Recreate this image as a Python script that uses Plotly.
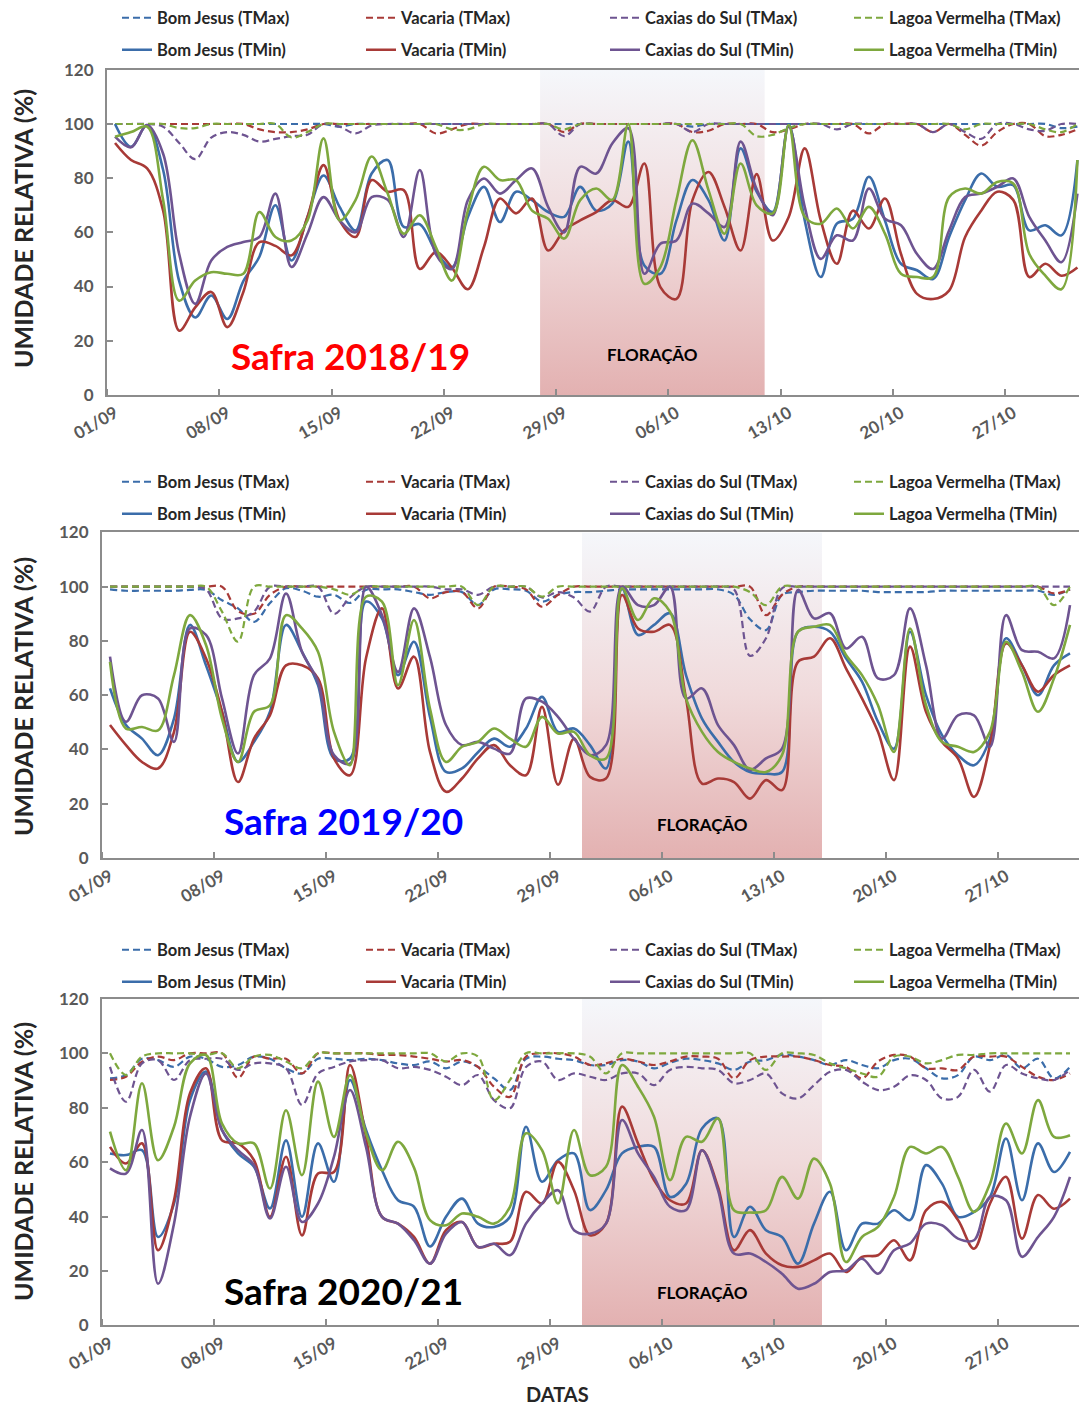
import plotly.graph_objects as go

# ---------------- data ----------------
DAYS = list(range(61))  # 01/09 .. 31/10
TICK_DAYS = [0, 7, 14, 21, 28, 35, 42, 49, 56]
TICK_LABELS = ["01/09", "08/09", "15/09", "22/09", "29/09", "06/10", "13/10", "20/10", "27/10"]
STATIONS = ["Bom Jesus", "Vacaria", "Caxias do Sul", "Lagoa Vermelha"]
SAFRAS = ["Safra 2018/19", "Safra 2019/20", "Safra 2020/21"]
FLORACAO_DAYS = [(27, 40), (30, 44), (30, 44)]  # first and last day index of flowering

# ---- Safra 2018/19 ----
BJ1_MAX = [100,100,100,100,100,100,100,100,100,100, 100,100,100,100,99,100,100,100,100,100,
           100,100,100,100,100,100,100,100,100,100, 100,100,100,100,100,100,99,100,100,100,
           100,100,100,100,100,100,100,100,100,100, 100,100,100,100,100,100,100,100,100,98.5, 99]
VAC1_MAX = [100,100,100,100,100,100,100,100,100,98, 97,97,98,100,100,100,100,100,100,100,
            96.5,98,100,100,100,100,100,100,97,100, 100,100,100,100,100,100,97,97.5,100,100,
            100,97,98,100,100,100,100,96.5,100,100, 100,97,100,96,92,97,100,100,95.5,96, 98]
CAX1_MAX = [100,100,100,99,93,87,95,97,96,93.5, 94.5,95.5,96,100,99,96.5,99.5,100,100,100,
            100,100,100,100,100,100,100,100,95.5,100, 100,100,100,100,100,100,97,100,100,100,
            100,100,100,100,100,98,100,100,100,100, 100,97,100,97,94.5,100,100,98,97.5,100, 100]
LV1_MAX = [100,100,100,100,98.5,98.5,100,100,100,100, 100,95,97,100,100,100,100,100,100,100,
           100,98,98,100,100,100,100,100,98,100, 100,100,100,100,100,100,100,100,100,100,
           95.5,96,98.5,100,100,100,100,100,100,100, 100,100,100,98,100,100,100,100,98,97, 100]
BJ1_MIN = [100,91.6,99.6,83,42,28.6,36.7,28,42,51, 70,49.6,65.7,81,69.4,60.7,81.7,86.7,62,63,
           53,47,65.7,76.8,63.8,75,71.9,67.5,65.7,76.8, 68,70.6,93.5,47.8,44.7,64.4,79.3,71.9,57,91,
           75,67.5,99.6,64.4,43.5,63.2,65,80.5,64.4,48.4, 46,42.8,58.3,71.9,81.7,76.8,77.4,60.7,62.6,58.9, 86.7]
VAC1_MIN = [93,86.7,83.6,68,23.7,32.3,38,25,38,56.4, 55,51.5,65.7,84.8,64.4,58.3,79.3,75,75.6,46.5,
            52.7,47,39,54.6,72.5,67,72.5,53.3,60.7,64.4, 67.5,71.9,69.4,85.4,39.8,35.4,71.9,82.3,69.4,53.3,
            81.5,57,65.7,91,64.4,48.4,68,61.4,72.5,52, 37.3,35.4,38.5,58.3,68,75,72,43.5,48.4,44, 47]
CAX1_MIN = [95.3,91.4,99.6,89,52,33.6,49.6,54.6,56.4,58.3, 74.3,47.2,59.5,73,64.4,60,73,72,58.3,83,
            52,46.5,71.9,79.9,74.3,79.3,83.6,69.4,60,84.2, 81.7,92.8,98.4,44.7,55.8,57,70.6,67,62,93.5,
            76,66.3,99,69.4,50.2,58.9,57,76.2,65,62.6, 52,46.5,60.7,73,74.3,76.8,79.9,65.7,57,49, 74.3]
LV1_MIN = [95.3,97,99,71.9,34.8,42.2,45.3,44.7,44.7,67.5, 58.3,57,64.4,94.7,64.4,72,88,74.3,59.5,66.3,
           54.6,42.2,68,84.2,79.3,79.3,68,65,57.7,71.9, 76.2,72,100,41,47.2,71.9,94,75.6,59.5,85.4,
           70,67,99.6,65.7,63.2,68.8,61.4,69.4,59.5,44.7, 43.5,43.5,73,76.2,74.3,78.6,78,52,44,39, 86.7]

# ---- Safra 2019/20 ----
BJ2_MAX = [99,98.5,98.5,98.5,98.5,98.8,98.8,95,92,87, 94,99.4,98.5,96.3,97,94,98.8,99,99,98,
           97,98,98,93.2,99,99,98.5,94.5,97,98, 98,98.5,99,99,99,99,99,99,99,97,
           88,84,97,98,98.5,98.5,98.5,98.5,98,98, 98,98,98.5,98.5,98.5,98.5,98.5,98.5,98.5,97, 99]
VAC2_MAX = [100,100,100,100,100,100,100,100,91,90, 97,100,100,100,100,100,100,100,100,100,
            95.7,98,98,92,100,100,99,92.6,97,100, 100,100,100,100,100,100,100,100,100,100,
            100,89.5,97,100,100,100,100,100,100,100, 100,100,100,100,100,100,100,100,100,97.5, 99]
CAX2_MAX = [100,100,100,100,100,100,99,88.3,88.3,90.8, 100,100,100,100,90,96,100,100,100,100,
            100,99,99,97,100,100,100,96,98,96, 90.8,100,100,100,100,100,100,100,100,99,
            74.5,81,99.4,100,100,100,100,100,100,100, 100,100,100,100,100,100,100,100,100,100, 100]
LV2_MAX = [100,100,100,100,100,100,100,90.8,79.7,100, 100,100,100,100,99,97,100,100,100,100,
           100,100,100,93.2,100,100,100,96.3,100,100, 100,100,100,100,100,100,100,100,100,100,
           98,93.2,100,100,100,100,100,100,100,100, 100,100,100,100,100,100,100,100,100,93.2, 100]
BJ2_MIN = [62.5,49,44,37.9,51.4,85.9,71,53.9,35.4,42.8, 53.9,85.9,76,63.7,36.7,36.7,94.5,88.3,67.4,79.7,
           52,31.7,33,39,44,41,47.7,59.4,46.5,47.7, 41.6,33,99.4,82.2,85.9,90.2,67.4,51.4,42.8,35.4,
           31.7,31.1,31.7,83.4,85.2,83.4,73.6,65,50.2,40.3, 83.4,60,45.3,37.9,34.2,44,81,71,60,71, 75.4]
VAC2_MIN = [49,41.6,35.4,33,46.5,83.4,73.6,53.9,28,44, 52.6,71,71,66.2,36.7,30.5,73.6,92,62.5,74.2,
            39.1,24.4,29.3,36.7,41.6,34.2,30.5,55.7,27,44, 29.9,29.3,96.9,84.6,83.4,85.9,58.8,27.4,29.3,28,
            21.9,28.7,25,72.3,74.2,81,69.9,58.8,46.5,28.7, 77.9,53.9,42.8,36.7,22.5,41.6,79.1,71,61.3,67.4, 71]
CAX2_MIN = [74.2,50.2,60,58.8,42.8,84.6,82.2,58.8,38.5,67.4, 73.6,97.5,76,65,37.9,34.8,100,89.5,68.6,92,
            74,49,41.6,42.8,40.3,38.5,58.8,57.6,52,44, 37.9,41.6,100,93.2,93.2,100,58.8,62.5,49,41.6,
            32.5,36.7,40.3,98.8,88.3,90.2,77.2,81.5,66.2,67.4, 92,71,44,52.6,52.6,41,89.5,76.6,76,73.6, 93.2]
LV2_MIN = [72.3,47.7,48.3,47,67.4,89.5,78.5,51.4,35.4,53.9, 56.3,89.5,84.6,76,46.5,34.2,96.3,94.5,63.7,87.7,
           55,35.4,41,42.8,47.7,44,41,52,45.9,46.5, 37.9,36.7,99.4,87.7,95.7,90.8,58.8,46.5,39.1,35.4,
           33,31.7,37.9,83.4,85.2,85.9,74.8,67.4,56.3,39.1, 84.6,56.3,42.8,41,39.1,46.5,79.7,68.6,53.9,66.2, 85.9]

# ---- Safra 2020/21 ----
BJ3_MAX = [90.8,92,98,97.5,95,98.8,98,95,95.7,98.8, 98,94.5,92.6,98,98,97.5,98,97.5,96.3,95.7,
           97,94.5,97,95,90.8,86.5,98,98.8,98,97.5, 95.7,95.7,97.5,97,94.5,96.5,98,97.5,96.3,93.9,
           97,97.5,99.4,98.8,97.5,95.7,97.5,95.7,94.5,97.5, 98,94.5,90.8,92,98.8,97.5,99.4,94.5,98,90.8, 95]
VAC3_MAX = [90.2,91.4,96.9,98.8,97.5,100,100,100,91,98.8, 98,98,92.6,100,100,100,100,99.4,99.4,98.8,
            98,97,97.5,95,87.7,84,98.8,100,100,98.8, 95.7,96.3,98,97,95.7,97,98.8,98.8,98,90.8,
            97.5,98.8,98.8,98.8,97.5,95.7,95,90.8,97,99.4, 98.8,94.5,94.5,93.9,98.8,98.8,98.8,95,91.4,90.2, 92.6]
CAX3_MAX = [95,82.2,96.3,97.5,90.2,97.5,98,98,93.9,96.3, 96.3,94.5,81,92.6,95,97,97.5,97.5,94.5,95,
            93.9,91.4,88.3,92,82.8,79.8,95,97,90.2,92.6, 91.4,90.2,92.6,92.6,88.3,93.9,95,94.5,93.9,89,
            90.2,92.6,85.3,83.4,88.3,93.2,93.9,89.6,86.5,87.7, 91.9,90.2,83.4,84,93.9,85.9,95.7,92.6,90.8,90.2, 93.9]
LV3_MAX = [100,92,98.8,100,100,100,99.4,100,94.5,98.8, 99.4,97,94.5,100,100,100,100,100,100,100,
           100,97,100,98.8,82.8,90.2,100,100,100,100, 98.8,92.6,100,100,100,100,100,100,100,100,
           100,93.9,100,100,99.4,96.3,94.5,92.6,91.4,98.8, 98.8,96.3,97.5,99.4,99.4,100,100,100,100,100, 100]
BJ3_MIN = [63.2,62.6,64.4,32.5,44.8,82.8,93.3,71.8,63.2,58.3, 43,68,39.9,66.9,52.8,90.2,71.8,57,46,43.6,
           29,39.9,46.6,37.4,36.2,39.9,73,52.8,60.7,63.2, 42.4,49.7,63.2,65.6,65.6,47.2,52,72.4,76.1,32.5,
           43.6,35,32.5,22.7,37.4,49.1,27.6,37.4,37.4,42.3, 38.7,58.9,52.1,39.9,41.7,47.2,68.7,46,66.9,56.4, 63.8]
VAC3_MIN = [65.6,59.5,66.9,27.6,46,85.3,94.5,68,66.9,60.7, 39.9,62,33.1,55.8,56.4,95.7,69.3,39.9,37.4,32.5,
            22.7,35,38,28.8,30,30.7,49.1,44.8,60.1,49.7, 33.1,37.4,80.4,66.9,53.4,46,44.8,64.4,50.9,27.6,
            35,26.4,22.1,21.5,23.9,26.4,19.6,25.2,25.8,31.3, 23.9,42.3,45.4,38.7,28.2,44.8,54.6,31.9,47.9,42.9, 46.6]
CAX3_MIN = [57.7,55.8,71.8,15.3,37.4,76.7,92.6,71.8,64.4,58.9, 39.3,58.3,38,44.8,62,86.5,65.6,39.9,37.4,31.3,
            22.7,33.7,38,28.8,30,25.8,37.4,44.8,49.7,35, 33.7,37.4,75.5,63.2,54.6,43.6,42.4,64.4,49.7,26.4,
            26.4,23.3,19,13.5,15.3,19.6,20.2,24.5,19,27.6, 30.1,37.4,36.8,31.9,31.3,47.2,46,25.2,32.5,39.9, 54.6]
LV3_MIN = [71.2,57,89,60.7,73,96.3,99.4,74.2,66.9,66.9, 50.3,79.1,55.2,89.6,69.3,92,70.6,57,67.5,58,
           38.7,36.8,41.1,39.9,37.4,43.6,70.6,64.4,44.8,71.8, 55.2,58.3,95.7,87.7,76.7,53.4,69.3,67.5,76.1,42.3,
           41.5,42.3,54.6,46.6,61.3,52.1,23.3,32.5,36.2,47.2, 65.6,63.2,65.6,54.6,41.7,52.1,74.2,63.2,82.8,69.3, 69.9]

PANELS = [
    ([BJ1_MAX, VAC1_MAX, CAX1_MAX, LV1_MAX], [BJ1_MIN, VAC1_MIN, CAX1_MIN, LV1_MIN]),
    ([BJ2_MAX, VAC2_MAX, CAX2_MAX, LV2_MAX], [BJ2_MIN, VAC2_MIN, CAX2_MIN, LV2_MIN]),
    ([BJ3_MAX, VAC3_MAX, CAX3_MAX, LV3_MAX], [BJ3_MIN, VAC3_MIN, CAX3_MIN, LV3_MIN]),
]

# ---------------- styling ----------------
W, H = 1079, 1407
OFF = 0  # body margin removed by post_script below
COLORS = ["#3B6DAA", "#A83A37", "#6E5491", "#7EA83E"]
SAFRA_COLORS = ["#FF0000", "#0000FF", "#000000"]
FONT = "Lato"
TXT_GRAY = "#595959"
AXIS_GRAY = "#8c8c8c"

# target screen-pixel layout of each panel: (left, top, bottom, px per day)
PANEL_PX = [(107, 69.8, 394.9, 16.04), (102, 532.4, 858.0, 16.0), (102, 998.9, 1325.4, 16.0)]
LEGEND_ROWS_PX = [(18, 50), (482, 514), (950, 982)]
LEGEND_TEXT_X_PX = [158, 402, 646, 890]
SAFRA_POS_PX = [(350, 355), (343, 820), (343, 1290)]
FLOR_LABEL_Y = [15, 12.2, 12]
YTITLE_CENTER_PX = [229, 697, 1162]


def fx(px):
    return (px - OFF) / W


def fy(py):
    return 1 - (py - OFF) / H


fig = go.Figure()
layout = dict(
    width=W, height=H, margin=dict(l=0, r=0, t=0, b=0, autoexpand=False),
    paper_bgcolor="white", plot_bgcolor="white",
    font=dict(family=FONT, color=TXT_GRAY),
    annotations=[], showlegend=True,
)

for p, (maxes, mins) in enumerate(PANELS):
    sfx = "" if p == 0 else str(p + 1)
    xa, ya = "x" + sfx, "y" + sfx
    left, top, bottom, ppd = PANEL_PX[p]
    xr = (W - (left - OFF)) / ppd - 0.5
    f0, f1 = FLORACAO_DAYS[p]
    a, b = f0 - 0.5, f1 + 0.5
    # flowering band (gradient)
    fig.add_trace(go.Scatter(
        x=[a, b, b, a, a], y=[0, 0, 120, 120, 0], xaxis=xa, yaxis=ya,
        mode="lines", line=dict(width=0), fill="toself",
        fillgradient=dict(type="vertical",
                          colorscale=[[0, "#e3b1b1"], [0.5, "#f0dadb"], [1, "#f5f7fb"]]),
        hoverinfo="skip", showlegend=False))
    r1, r2 = LEGEND_ROWS_PX[p]
    for k, (series, tag, rowy) in enumerate(((maxes, "TMax", r1), (mins, "TMin", r2))):
        for s, st in enumerate(STATIONS):
            idx = p * 8 + k * 4 + s + 1
            lg = "legend" if idx == 1 else "legend" + str(idx)
            line = dict(color=COLORS[s], width=2.2 if k == 0 else 2.6, shape="spline", smoothing=1.0)
            if k == 0:
                line["dash"] = "7px,4px"
            fig.add_trace(go.Scatter(
                x=DAYS, y=series[s], xaxis=xa, yaxis=ya, mode="lines",
                name=f"{st} ({tag})", legend=lg, line=line))
            layout[lg] = dict(
                x=fx(LEGEND_TEXT_X_PX[s] - 41), xanchor="left", y=fy(rowy), yanchor="middle",
                bgcolor="rgba(0,0,0,0)", borderwidth=0, itemwidth=30,
                font=dict(size=16.5, color="#262626", family=FONT, weight="bold"))

    layout["xaxis" + sfx] = dict(
        domain=[fx(left), 1], range=[-0.5, xr], anchor=ya,
        tickmode="array", tickvals=TICK_DAYS, ticktext=TICK_LABELS, ticks="",
        tickangle=-30, tickfont=dict(size=17, color=TXT_GRAY, family=FONT, weight="bold"),
        showline=True, linecolor=AXIS_GRAY, linewidth=2, mirror=True, showgrid=False, zeroline=False,
        minor=dict(tick0=-0.5, dtick=7, ticks="inside", ticklen=6, tickwidth=1.5, tickcolor=AXIS_GRAY,
                   showgrid=False),
        fixedrange=True)
    layout["yaxis" + sfx] = dict(
        domain=[fy(bottom), fy(top)], range=[0, 120], anchor=xa,
        tickmode="array", tickvals=[0, 20, 40, 60, 80, 100, 120], ticks="inside", ticklen=6,
        tickwidth=1.5, tickcolor=AXIS_GRAY, ticklabelstandoff=8,
        tickfont=dict(size=17, color=TXT_GRAY, family=FONT, weight="bold"),
        showline=True, linecolor=AXIS_GRAY, linewidth=2, mirror=True, showgrid=False, zeroline=False,
        fixedrange=True)

    # text
    layout["annotations"] += [
        dict(text="UMIDADE RELATIVA (%)", textangle=-90, xref="paper", yref="paper",
             x=fx(23), y=fy(YTITLE_CENTER_PX[p]), showarrow=False, xanchor="center", yanchor="middle",
             font=dict(size=25, color="#262626", family=FONT, weight="bold")),
        dict(text=SAFRAS[p], xref="paper", yref="paper",
             x=fx(SAFRA_POS_PX[p][0]), y=fy(SAFRA_POS_PX[p][1]), showarrow=False,
             xanchor="center", yanchor="middle",
             font=dict(size=37, color=SAFRA_COLORS[p], family=FONT, weight="bold")),
        dict(text="FLORAÇÃO", xref=xa, yref=ya, x=(a + b) / 2, y=FLOR_LABEL_Y[p], showarrow=False,
             xanchor="center", yanchor="middle",
             font=dict(size=17, color="#000000", family=FONT, weight="bold")),
    ]

layout["annotations"].append(dict(
    text="DATAS", xref="paper", yref="paper", x=fx(557), y=fy(1394), showarrow=False,
    xanchor="center", yanchor="middle", font=dict(size=20, color="#262626", family=FONT, weight="bold")))

fig.update_layout(**layout)
fig.write_html(
    "out.html",
    config={"displayModeBar": False},
    post_script="document.body.style.margin='0';document.body.style.overflow='hidden';",
)
